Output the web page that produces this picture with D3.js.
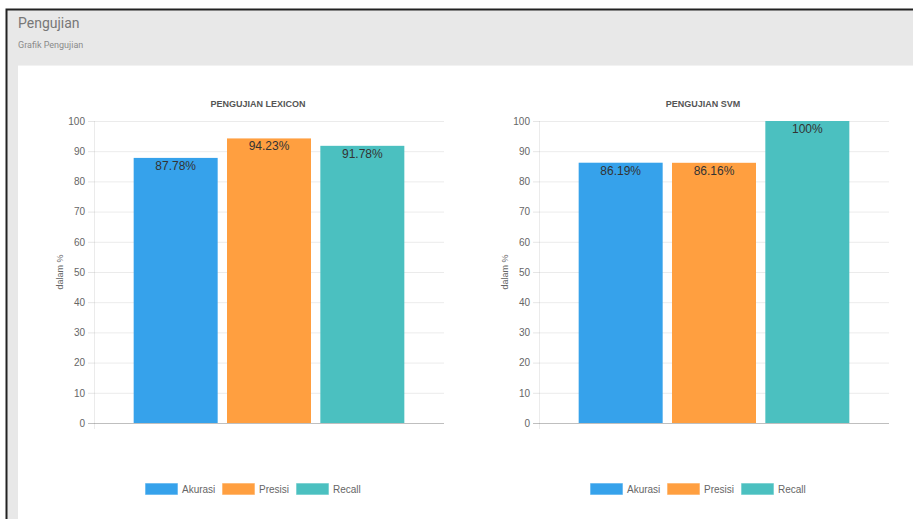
<!DOCTYPE html>
<html>
<head>
<meta charset="utf-8">
<script src="https://cdn.jsdelivr.net/npm/d3@7"></script>
<style>
  body { margin: 0; background: #fff; }
  svg { display: block; }
</style>
</head>
<body>
<div id="chart-area"></div>
<script>
// data
var categories = ["Akurasi", "Presisi", "Recall"];
var lexiconValues = [87.78, 94.23, 91.78];
var svmValues = [86.19, 86.16, 100];
var yTicks = [0, 10, 20, 30, 40, 50, 60, 70, 80, 90, 100];
var colors = ["#36a2eb", "#ff9f40", "#4bc0c0"];

var svg = d3.select("#chart-area").append("svg")
    .attr("width", 913)
    .attr("height", 519);

// page frame
svg.append("rect").attr("x", 0).attr("y", 0).attr("width", 913).attr("height", 519).attr("fill", "#fff");
svg.append("rect").attr("x", 7).attr("y", 10).attr("width", 906).attr("height", 509).attr("fill", "#e8e8e8");
svg.append("rect").attr("x", 18).attr("y", 66).attr("width", 895).attr("height", 453).attr("fill", "#fff");
svg.append("line").attr("x1", 18).attr("x2", 913).attr("y1", 65.5).attr("y2", 65.5)
    .attr("stroke", "#f2f2f2");
svg.append("path").attr("d", "M6.5,519 V9.5 H913")
    .attr("fill", "none").attr("stroke", "#222").attr("stroke-width", 2);

svg.append("text")
    .attr("x", 18).attr("y", 28)
    .attr("font-family", "Roboto, sans-serif")
    .attr("font-size", "14px")
    .attr("fill", "#777")
    .text("Pengujian");
svg.append("text")
    .attr("x", 18).attr("y", 48)
    .attr("font-family", "Roboto, sans-serif")
    .attr("font-size", "9px")
    .attr("fill", "#8a8a8a")
    .text("Grafik Pengujian");

drawChart(0, "PENGUJIAN LEXICON", lexiconValues);
drawChart(445, "PENGUJIAN SVM", svmValues);

function drawChart(offset, title, values) {
    var left = 94, right = 444, top = 121, bottom = 423;
    var g = svg.append("g").attr("transform", "translate(" + offset + ",0)");
    var font = "'Liberation Sans', Arial, sans-serif";

    var x = d3.scaleBand().domain(categories).range([left, right])
        .paddingInner(0.1).paddingOuter(0.425);
    var y = d3.scaleLinear().domain([0, 100]).range([bottom, top]);

    // title
    g.append("text")
        .attr("x", 258).attr("y", 107)
        .attr("text-anchor", "middle")
        .attr("font-family", font)
        .attr("font-size", "9px")
        .attr("font-weight", "bold")
        .attr("fill", "#555")
        .text(title);

    // grid
    var grid = g.append("g")
        .attr("transform", "translate(" + left + ",0)")
        .call(d3.axisLeft(y).tickValues(yTicks).tickSize(-(right - left)).tickFormat(""));
    grid.select(".domain").remove();
    grid.selectAll(".tick line")
        .attr("stroke", (d) => d === 0 ? "rgba(0,0,0,0.25)" : "rgba(0,0,0,0.08)");

    g.append("line")
        .attr("x1", left + 0.5).attr("x2", left + 0.5)
        .attr("y1", top).attr("y2", bottom + 6)
        .attr("stroke", "rgba(0,0,0,0.08)");

    // y axis
    var yAxis = g.append("g")
        .attr("transform", "translate(" + left + ",0)")
        .call(d3.axisLeft(y).tickValues(yTicks).tickSize(6).tickPadding(3));
    yAxis.select(".domain").remove();
    yAxis.selectAll(".tick line")
        .attr("stroke", (d) => d === 0 ? "rgba(0,0,0,0.25)" : "rgba(0,0,0,0.1)");
    yAxis.selectAll(".tick text")
        .attr("fill", "#666")
        .attr("font-family", font)
        .attr("font-size", "10px");

    // y label
    g.append("text")
        .attr("transform", "translate(63," + ((top + bottom) / 2) + ") rotate(-90)")
        .attr("text-anchor", "middle")
        .attr("font-family", font)
        .attr("font-size", "9px")
        .attr("fill", "#666")
        .text("dalam %");

    // bars
    g.selectAll("rect.bar")
        .data(values)
        .enter().append("rect")
        .attr("class", "bar")
        .attr("x", (d, i) => x(categories[i]))
        .attr("width", x.bandwidth())
        .attr("y", (d) => y(d))
        .attr("height", (d) => bottom - y(d))
        .attr("fill", (d, i) => colors[i]);

    // value labels
    g.selectAll("text.val")
        .data(values)
        .enter().append("text")
        .attr("class", "val")
        .attr("x", (d, i) => x(categories[i]) + x.bandwidth() / 2)
        .attr("y", (d) => y(d) + 12)
        .attr("text-anchor", "middle")
        .attr("font-family", "'Liberation Sans Narrow', 'Liberation Sans', sans-serif")
        .attr("font-size", "12px")
        .attr("fill", "#333")
        .text((d) => d + "%");

    // legend
    var legendX = [145, 222, 296];
    var leg = g.selectAll("g.legend")
        .data(categories)
        .enter().append("g")
        .attr("class", "legend")
        .attr("transform", (d, i) => "translate(" + legendX[i] + ",483)");
    leg.append("rect")
        .attr("width", 33).attr("height", 12)
        .attr("fill", (d, i) => colors[i])
        .attr("stroke", "rgba(255,255,255,0.6)");
    leg.append("text")
        .attr("x", 37).attr("y", 10)
        .attr("font-family", font)
        .attr("font-size", "10px")
        .attr("fill", "#666")
        .text((d) => d);
}
</script>
</body>
</html>
